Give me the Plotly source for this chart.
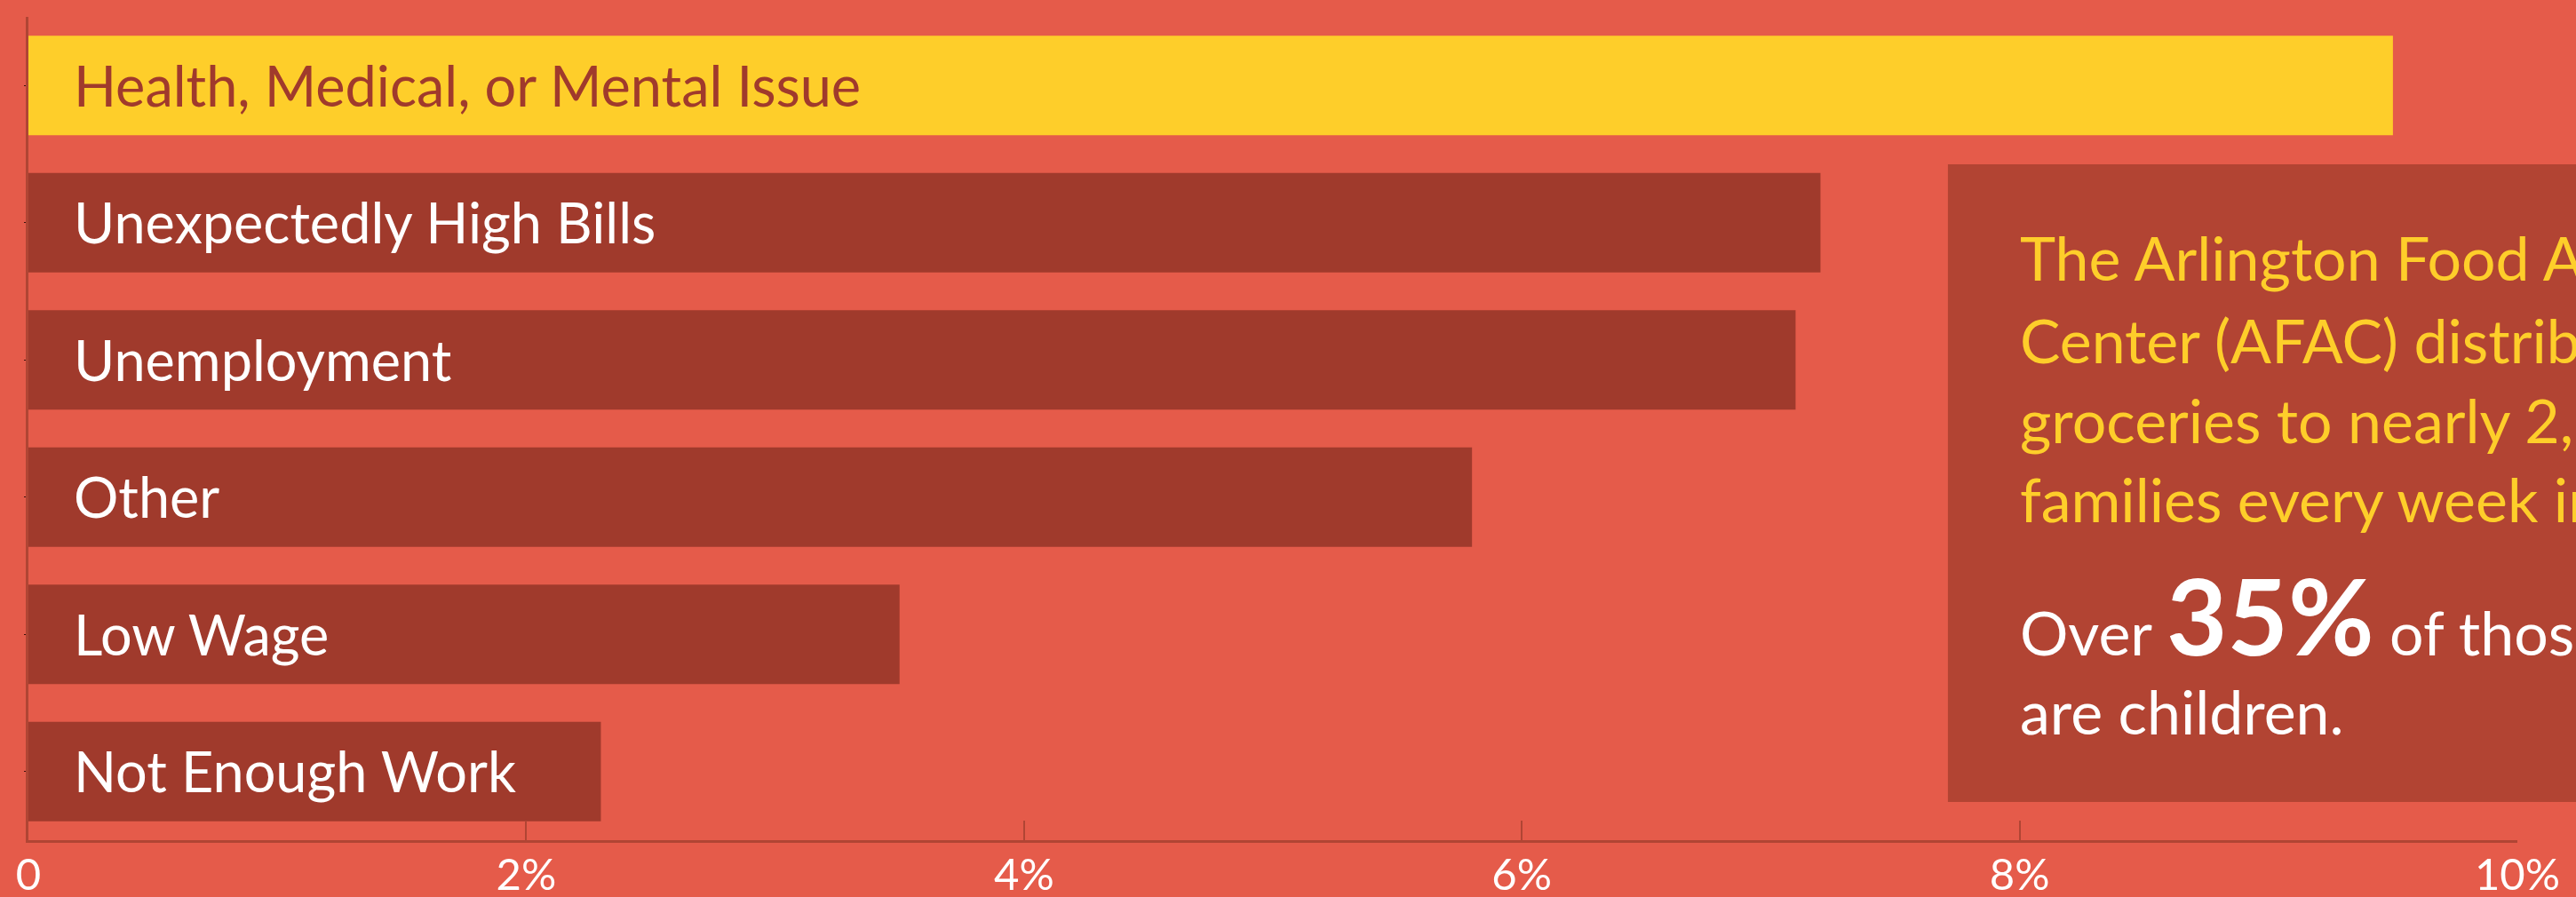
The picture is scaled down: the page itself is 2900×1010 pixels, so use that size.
import plotly.graph_objects as go

# data
reasons = ["Health, Medical, or Mental Issue", "Unexpectedly High Bills", "Unemployment",
           "Other", "Low Wage", "Not Enough Work"]
shares = [9.5, 7.2, 7.1, 5.8, 3.5, 2.3]
tick_vals = [0, 2, 4, 6, 8, 10]
tick_text = ["0", "2%", "4%", "6%", "8%", "10%"]

callout_lines = ["The Arlington Food Assistance", "Center (AFAC) distributes",
                 "groceries to nearly 2,200", "families every week in Arlington."]
kids_lines = ["Over <b><span style='font-size:118px'>35%</span></b> of those served",
              "are children."]

BG = "#E55B4A"
BAR = "#A03A2C"
HIGHLIGHT = "#FECE2A"
BOX = "#B24433"
AXIS = "#B04534"
FONT = "Lato"


def main():
    colors = [HIGHLIGHT if i == 0 else BAR for i in range(len(reasons))]
    fig = go.Figure(go.Bar(x=shares, y=reasons, orientation="h",
                           marker=dict(color=colors, line=dict(width=0)),
                           hoverinfo="skip"))

    # labels inside the bars
    for i, r in enumerate(reasons):
        fig.add_annotation(x=0, y=r, xref="x", yref="y", text=r, showarrow=False,
                           xanchor="left", yanchor="middle", xshift=49, yshift=1,
                           font=dict(family=FONT, size=63,
                                     color=BAR if i == 0 else "white"))

    # callout box, runs off the right edge like the original
    fig.add_shape(type="rect", xref="paper", yref="paper", x0=0.7712, x1=1.06,
                  y0=0.0464, y1=0.821, fillcolor=BOX, line=dict(width=0), layer="below")

    ys = [0.7077, 0.6084, 0.5113, 0.4153]
    for line, y in zip(callout_lines, ys):
        fig.add_annotation(x=0.7994, y=y, xref="paper", yref="paper", text=line,
                           showarrow=False, xanchor="left", yanchor="middle",
                           font=dict(family=FONT, size=68, color=HIGHLIGHT))
    for line, y in zip(kids_lines, [0.2740, 0.1570]):
        fig.add_annotation(x=0.7994, y=y, xref="paper", yref="paper", text=line,
                           showarrow=False, xanchor="left", yanchor="middle",
                           font=dict(family=FONT, size=68, color="white"))

    fig.update_layout(
        width=2900, height=1010,
        margin=dict(l=32, r=66, t=19, b=64),
        paper_bgcolor=BG, plot_bgcolor=BG,
        bargap=0.275, showlegend=False,
        font=dict(family=FONT, color="white"),
    )
    fig.update_xaxes(range=[0, 10], tickvals=tick_vals, ticktext=tick_text,
                     automargin=False, ticklabelstandoff=-6,
                     showgrid=False, zeroline=False, showline=True, linecolor=AXIS,
                     linewidth=3, ticks="inside", ticklen=22, tickwidth=2, tickcolor=AXIS,
                     tickfont=dict(family=FONT, size=49, color="white"))
    fig.update_yaxes(categoryorder="array", categoryarray=reasons, range=[5.5, -0.5],
                     automargin=False,
                     showticklabels=False, showgrid=False, zeroline=False,
                     showline=True, linecolor=AXIS, linewidth=3,
                     ticks="outside", ticklen=2, tickwidth=1, tickcolor="#3a120c")
    # drop the default 8px page margin so the figure fills the window
    fig.write_html("out.html", config={"displayModeBar": False},
                   post_script="document.body.style.margin='0';"
                               "document.body.style.overflow='hidden';")


if __name__ == "__main__":
    main()
